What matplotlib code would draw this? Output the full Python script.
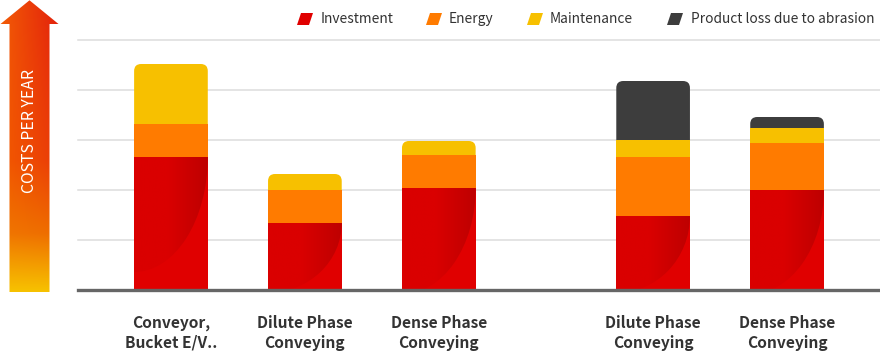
import numpy as np
import matplotlib
matplotlib.use("Agg")
import matplotlib.pyplot as plt
from matplotlib.path import Path
from matplotlib.patches import PathPatch, Ellipse, Polygon, Rectangle

plt.rcParams['font.family'] = ['Noto Sans CJK KR', 'DejaVu Sans']

# data (cost per year, arbitrary units; gridline = 1)
categories = ['Conveyor,\nBucket E/V..', 'Dilute Phase\nConveying', 'Dense Phase\nConveying',
              'Dilute Phase\nConveying', 'Dense Phase\nConveying']
positions = [0, 1, 2, 3.6, 4.6]
investment = [2.66, 1.34, 2.04, 1.48, 2.00]
energy = [0.66, 0.66, 0.66, 1.18, 0.94]
maintenance = [1.20, 0.32, 0.28, 0.34, 0.30]
product_loss = [0.0, 0.0, 0.0, 1.18, 0.22]

series_names = ['Investment', 'Energy', 'Maintenance', 'Product loss due to abrasion']
series_colors = ['#e00000', '#ff7b00', '#f7c000', '#3d3d3d']
series = [investment, energy, maintenance, product_loss]

W, H = 880, 352
fig = plt.figure(figsize=(W / 100, H / 100), dpi=100)

# background axes in pixel coordinates (arrow + legend)
bg = fig.add_axes([0, 0, 1, 1], zorder=0)
bg.set_xlim(0, W)
bg.set_ylim(H, 0)
bg.axis('off')

# main axes
ax_l, ax_r, ax_b, ax_t = 78, 880, 290, 40
ax = fig.add_axes([ax_l / W, (H - ax_b) / H, (ax_r - ax_l) / W, (ax_b - ax_t) / H], zorder=1)
ax.patch.set_alpha(0)
xlim = (-0.694, 5.294)
ax.set_xlim(*xlim)
ax.set_ylim(0, 5)
for s in ax.spines.values():
    s.set_visible(False)
ax.set_yticks([1, 2, 3, 4, 5])
ax.yaxis.grid(True, color='#dcdcdc', lw=1.1, clip_on=False)
ax.set_axisbelow(True)
ax.tick_params(axis='y', length=0, labelleft=False)
ax.axhline(0, color='#666666', lw=2.4, clip_on=False, zorder=5)

px_x = (ax_r - ax_l) / (xlim[1] - xlim[0])
px_y = (ax_b - ax_t) / 5.0
bar_w = 0.55
rx, ry = 7 / px_x, 7 / px_y


def rounded_top(x0, x1, y0, y1):
    verts = [(x0, y0), (x0, y1 - ry), (x0, y1), (x0 + rx, y1), (x1 - rx, y1),
             (x1, y1), (x1, y1 - ry), (x1, y0), (x0, y0)]
    codes = [Path.MOVETO, Path.LINETO, Path.CURVE3, Path.CURVE3, Path.LINETO,
             Path.CURVE3, Path.CURVE3, Path.LINETO, Path.CLOSEPOLY]
    return Path(verts, codes)


grad = np.ones((2, 100, 3))
sx = np.linspace(0, 1, 100)
c_left = np.array([218, 0, 0]) / 255
c_right = np.array([190, 0, 0]) / 255
mix = np.clip((sx - 0.45) / 0.55, 0, 1)[:, None]
row = c_left * (1 - mix) + c_right * mix
grad[:] = row

for i, xp in enumerate(positions):
    x0, x1 = xp - bar_w / 2, xp + bar_w / 2
    vals = [s[i] for s in series]
    last = max(k for k, v in enumerate(vals) if v > 0)
    bottom = 0
    for k, v in enumerate(vals):
        if v <= 0:
            continue
        if k == last:
            p = PathPatch(rounded_top(x0, x1, bottom, bottom + v), fc=series_colors[k], ec='none', zorder=2)
        else:
            p = Rectangle((x0, bottom), x1 - x0, v, fc=series_colors[k], ec='none', zorder=2)
        ax.add_patch(p)
        if k == 0:
            # darker curved shading in the investment block
            im = ax.imshow(grad, extent=(x0, x1, bottom, bottom + v), aspect='auto',
                           zorder=3, interpolation='bilinear')
            ery = min(1.04 * v, 2.3)
            el = Ellipse((x0, bottom + v), 2 * (x1 - x0), 2 * ery, transform=ax.transData)
            im.set_clip_path(el)
        bottom += v

ax.set_xticks(positions)
ax.set_xticklabels(categories, fontsize=11.2, fontweight='bold', color='#333333', linespacing=1.3)
ax.tick_params(axis='x', length=0, pad=18)
ax.set_xlim(*xlim)
ax.set_ylim(0, 5)

# gradient arrow on the left
nr, nc = 300, 60
t = np.linspace(0, 1, nr)[:, None]
s = np.linspace(0, 1, nc)[None, :]
stops_t = [0, 0.55, 0.8, 1.0]
left_c = np.array([[243, 92, 6], [242, 90, 0], [240, 118, 0], [247, 194, 0]]) / 255
right_c = np.array([[226, 30, 12], [234, 58, 8], [238, 108, 0], [247, 194, 0]]) / 255
img = np.zeros((nr, nc, 3))
for ch in range(3):
    lc = np.interp(t[:, 0], stops_t, left_c[:, ch])[:, None]
    rc = np.interp(t[:, 0], stops_t, right_c[:, ch])[:, None]
    img[:, :, ch] = lc * (1 - s) + rc * s
arrow = Polygon([(9.5, 292), (9.5, 24), (0.5, 24), (29.5, 0.3), (58.5, 24), (49.5, 24), (49.5, 292)],
                closed=True, fc='none', ec='none', transform=bg.transData)
bg.add_patch(arrow)
aim = bg.imshow(img, extent=(0, 60, 292, 0), aspect='auto', interpolation='bilinear')
aim.set_clip_path(arrow)
bg.set_xlim(0, W)
bg.set_ylim(H, 0)
bg.text(29.5, 131, 'COSTS PER YEAR', rotation=90, color='white', fontsize=11.4,
        ha='center', va='center')

# legend
mk_x = [297, 426, 527, 667]
tx_x = [321, 449, 550, 691]
for name, col, mx, tx in zip(series_names, series_colors, mk_x, tx_x):
    bg.add_patch(Polygon([(mx, 25), (mx + 12, 25), (mx + 16, 13), (mx + 4, 13)], closed=True,
                         fc=col, ec='none'))
    bg.text(tx, 19, name, fontsize=9.9, color='#333333', ha='left', va='center')

fig.savefig('out.png', dpi=100)
